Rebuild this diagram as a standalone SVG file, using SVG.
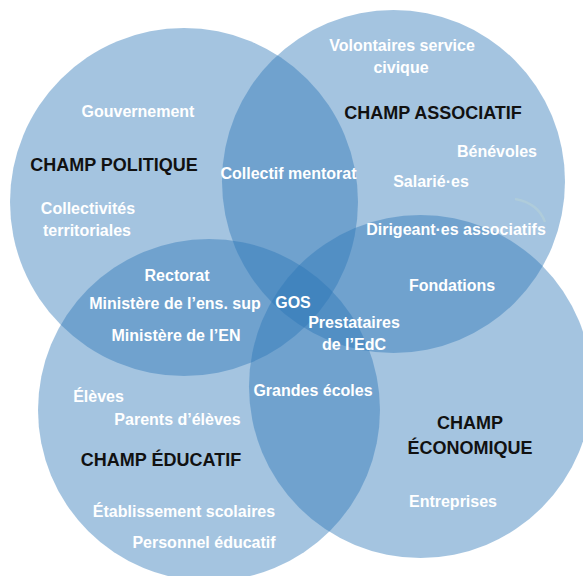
<svg xmlns="http://www.w3.org/2000/svg" width="583" height="576" viewBox="0 0 583 576">
<style>
.c{fill:#2b76b7;fill-opacity:0.43}
.w{font-family:"Liberation Sans",Arial,sans-serif;font-weight:bold;font-size:16px;fill:#ffffff;text-anchor:middle}
.h{font-family:"Liberation Sans",Arial,sans-serif;font-weight:bold;font-size:18px;fill:#111111;text-anchor:middle}
</style>
<rect width="583" height="576" fill="#ffffff"/>
<g id="circle-politique"><circle class="c" cx="184" cy="202" r="174"/></g>
<g id="circle-associatif"><circle class="c" cx="393.5" cy="181.5" r="171.5"/></g>
<g id="circle-educatif"><circle class="c" cx="209" cy="410" r="171"/></g>
<g id="circle-economique"><circle class="c" cx="420.5" cy="386.5" r="171.5"/></g>
<g id="connectors">
<path d="M515,199 Q538,203 545,222" fill="none" stroke="#b9d3d6" stroke-width="2.5" stroke-opacity="0.5"/>
</g>
<g id="node-politique">
<text class="h" x="114" y="171">CHAMP POLITIQUE</text>
<text class="w" x="138" y="117">Gouvernement</text>
<text class="w" x="88" y="214">Collectivités</text>
<text class="w" x="87" y="236">territoriales</text>
</g>
<g id="node-associatif">
<text class="h" x="433" y="119">CHAMP ASSOCIATIF</text>
<text class="w" x="402" y="51">Volontaires service</text>
<text class="w" x="401" y="73">civique</text>
<text class="w" x="497" y="157">Bénévoles</text>
<text class="w" x="431" y="187">Salarié·es</text>
<text class="w" x="456" y="235">Dirigeant·es associatifs</text>
<text class="w" x="452" y="291">Fondations</text>
</g>
<g id="node-overlaps">
<text class="w" x="288.5" y="179">Collectif mentorat</text>
<text class="w" x="177" y="281">Rectorat</text>
<text class="w" x="175" y="309">Ministère de l’ens. sup</text>
<text class="w" x="176" y="341">Ministère de l’EN</text>
<text class="w" x="293" y="308">GOS</text>
<text class="w" x="354" y="328">Prestataires</text>
<text class="w" x="354" y="350">de l’EdC</text>
<text class="w" x="313" y="396">Grandes écoles</text>
</g>
<g id="node-educatif">
<text class="h" x="161" y="466">CHAMP ÉDUCATIF</text>
<text class="w" x="98.5" y="402">Élèves</text>
<text class="w" x="177.5" y="425">Parents d’élèves</text>
<text class="w" x="184" y="517">Établissement scolaires</text>
<text class="w" x="204" y="548">Personnel éducatif</text>
</g>
<g id="node-economique">
<text class="h" x="470" y="429">CHAMP</text>
<text class="h" x="470" y="454">ÉCONOMIQUE</text>
<text class="w" x="453" y="507">Entreprises</text>
</g>
</svg>
